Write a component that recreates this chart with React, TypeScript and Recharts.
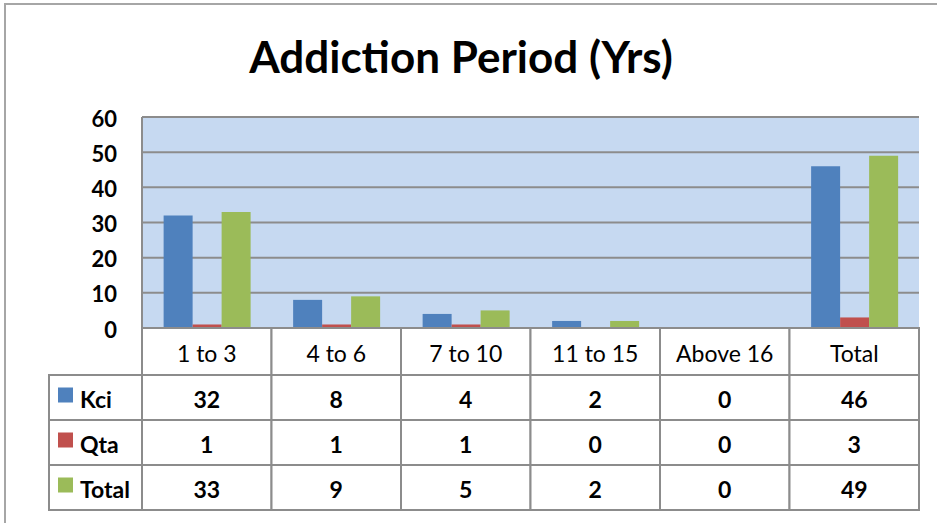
import React from 'react';
import { BarChart, Bar, XAxis, YAxis, CartesianGrid } from 'recharts';

const categories = ['1 to 3', '4 to 6', '7 to 10', '11 to 15', 'Above 16', 'Total'];
const kci = [32, 8, 4, 2, 0, 46];
const qta = [1, 1, 1, 0, 0, 3];
const total = [33, 9, 5, 2, 0, 49];
const seriesNames = ['Kci', 'Qta', 'Total'];
const seriesKeys = ['kci', 'qta', 'total'];
const seriesValues = [kci, qta, total];
const colors = ['#4f81bd', '#c0504d', '#9bbb59'];
const yTicks = [0, 10, 20, 30, 40, 50, 60];
const title = 'Addiction Period (Yrs)';

const data = categories.map((c, i) => ({ name: c, kci: kci[i], qta: qta[i], total: total[i] }));

const W = 937;
const H = 523;
const Y_W = 60;
const X_H = 195;
const M = { top: 117, right: 18, bottom: 0, left: 142 - Y_W };
const PLOT_LEFT = M.left + Y_W;
const PLOT_BOTTOM = H - X_H;
const PLOT_W = W - PLOT_LEFT - M.right;
const BAND = PLOT_W / categories.length;
const HEADER_H = 47;
const ROW_H = 45;
const LEGEND_LEFT = 49;
const GRID = '#8c8c8c';
const FONT = 'Lato, "Open Sans", sans-serif';

const TableTick = (props: any) => {
  const { x, payload } = props;
  const i = payload.index;
  const left = x - BAND / 2;
  return (
    <g>
      <rect x={left} y={PLOT_BOTTOM} width={BAND} height={HEADER_H} fill="#fff" stroke={GRID} strokeWidth={2} />
      <text x={x} y={PLOT_BOTTOM + HEADER_H / 2 + 1} textAnchor="middle" dominantBaseline="central"
        fontFamily={FONT} fontSize={23} fill="#000">{payload.value}</text>
      {seriesValues.map((vals, k) => {
        const top = PLOT_BOTTOM + HEADER_H + k * ROW_H;
        return (
          <g key={k}>
            <rect x={left} y={top} width={BAND} height={ROW_H} fill="#fff" stroke={GRID} strokeWidth={2} />
            <text x={x} y={top + ROW_H / 2 + 1} textAnchor="middle" dominantBaseline="central"
              fontFamily={FONT} fontSize={23} fontWeight="bold" fill="#000">{vals[i]}</text>
          </g>
        );
      })}
      {i === 0 && seriesNames.map((n, k) => {
        const top = PLOT_BOTTOM + HEADER_H + k * ROW_H;
        return (
          <g key={'l' + k}>
            <rect x={LEGEND_LEFT} y={top} width={left - LEGEND_LEFT} height={ROW_H} fill="#fff" stroke={GRID} strokeWidth={2} />
            <rect x={58} y={top + ROW_H / 2 - 10} width={15} height={15} fill={colors[k]} />
            <text x={80} y={top + ROW_H / 2 + 1} dominantBaseline="central"
              fontFamily={FONT} fontSize={23} fontWeight="bold" fill="#000">{n}</text>
          </g>
        );
      })}
    </g>
  );
};

const YTick = (props: any) => {
  const { y, payload } = props;
  return (
    <text x={PLOT_LEFT - 25} y={y + 1} textAnchor="end" dominantBaseline="central"
      fontFamily={FONT} fontSize={22} fontWeight="bold" fill="#000">{payload.value}</text>
  );
};

export default function App() {
  return (
    <div style={{ position: 'absolute', left: 0, top: 0, width: W, height: H, overflow: 'hidden', background: '#fff' }}>
      <div style={{ position: 'absolute', left: 4, top: 3, width: 1000, height: 600, border: '2px solid #a6a6a6' }} />
      <div style={{ position: 'absolute', left: 0, top: 29, width: 922, textAlign: 'center',
        fontFamily: FONT, fontWeight: 'bold', fontSize: 44, lineHeight: '54px', color: '#000' }}>{title}</div>
      <div style={{ position: 'absolute', left: 0, top: 0 }}>
        <BarChart width={W} height={H} data={data} margin={M} barCategoryGap="16.7%" barGap={0}>
          <CartesianGrid vertical={false} stroke={GRID} strokeWidth={2} fill="#c6d9f1" fillOpacity={1} />
          <XAxis dataKey="name" axisLine={false} tickLine={false} height={X_H} tick={<TableTick />} interval={0} />
          <YAxis width={Y_W} domain={[0, 60]} ticks={yTicks} interval={0} axisLine={{ stroke: GRID, strokeWidth: 2 }}
            tickLine={false} tick={<YTick />} />
          {seriesKeys.map((k, idx) => (
            <Bar key={k} dataKey={k} fill={colors[idx]} isAnimationActive={false} />
          ))}
        </BarChart>
      </div>
    </div>
  );
}
